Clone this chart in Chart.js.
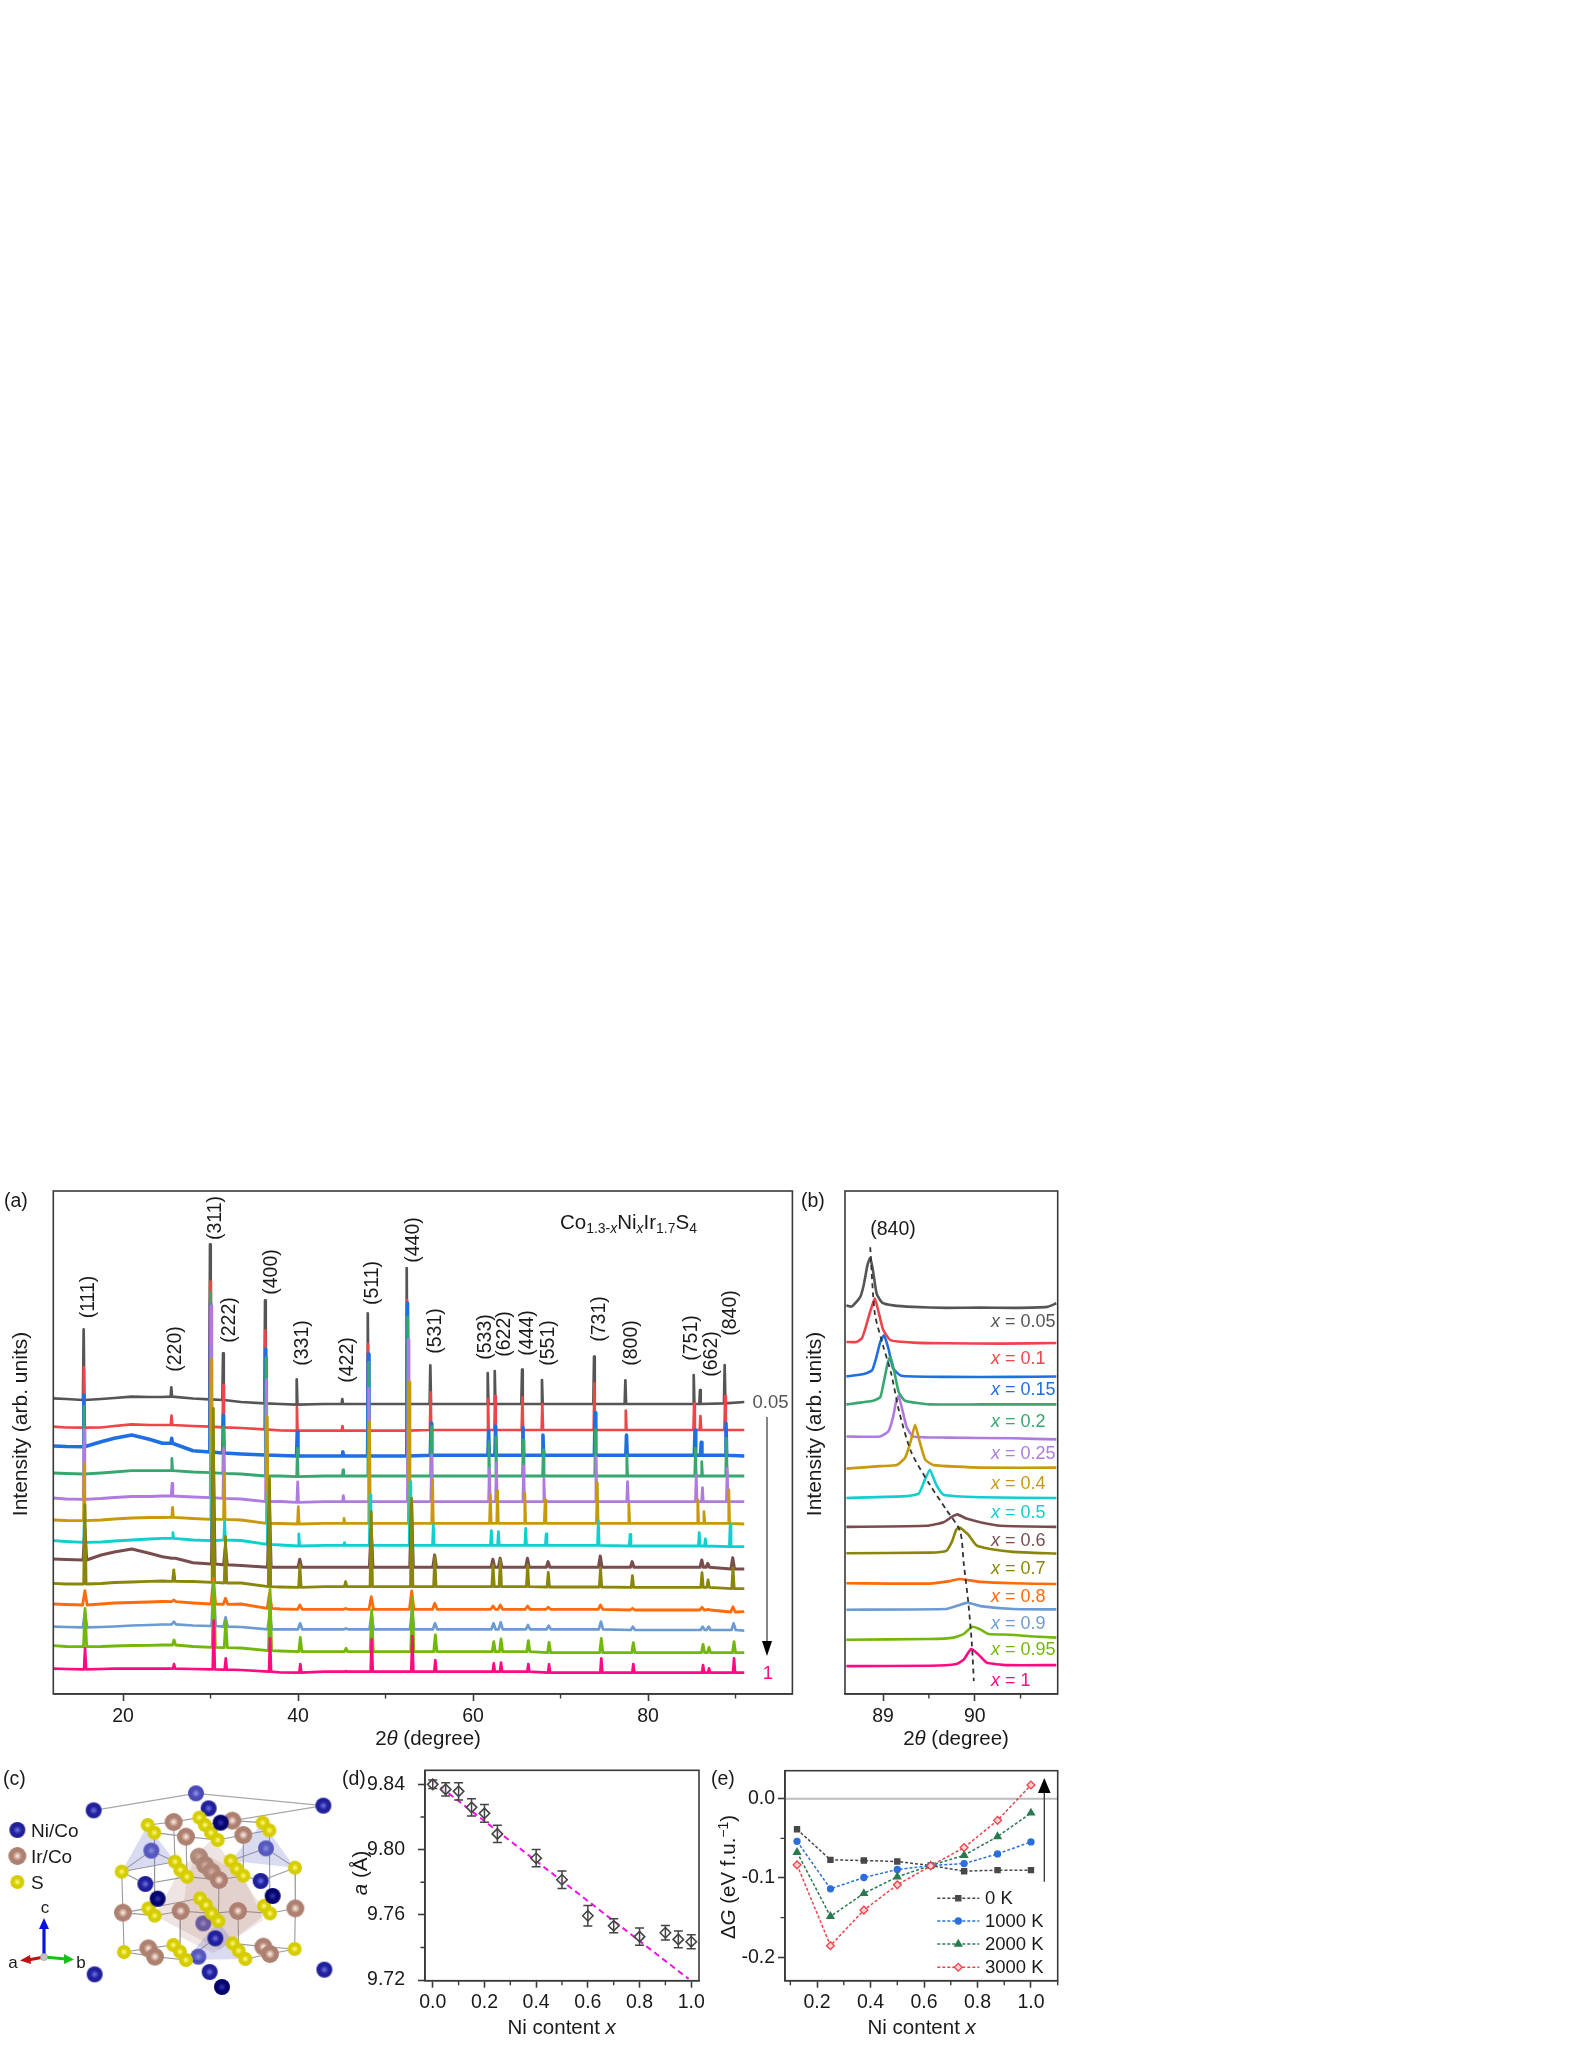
<!DOCTYPE html>
<html>
<head>
<meta charset="utf-8">
<title>Co1.3-xNixIr1.7S4</title>
<script src="https://cdn.jsdelivr.net/npm/chart.js@4/dist/chart.umd.js"></script>
<style>
  html, body { margin: 0; padding: 0; background: #fff; }
  body { position: relative; width: 1580px; height: 2045px; overflow: hidden; font-family: "Liberation Sans", Arial, sans-serif; color: #1a1a1a; }
  canvas { position: absolute; }
  .txt { position: absolute; white-space: nowrap; line-height: 1; transform: translate(-50%, -50%); }
  .left { transform: translate(0, -50%); }
  sub { font-size: 0.68em; line-height: 0; vertical-align: -0.28em; }
  sup { font-size: 0.68em; line-height: 0; vertical-align: 0.45em; }
  svg { position: absolute; left: 0; top: 0; pointer-events: none; }
</style>
</head>
<body>
<canvas id="chartA" width="800" height="560" style="left:0;top:1180px"></canvas>
<canvas id="chartB" width="240" height="560" style="left:830px;top:1180px"></canvas>
<canvas id="chartC" width="340" height="295" style="left:0;top:1750px"></canvas>
<canvas id="chartD" width="360" height="280" style="left:350px;top:1760px"></canvas>
<canvas id="chartE" width="370" height="280" style="left:700px;top:1760px"></canvas>
<svg width="1580" height="2045">
  <!-- seta do painel a -->
  <line x1="767" y1="1417" x2="767" y2="1645" stroke="#444" stroke-width="1.3"/>
  <polygon points="762,1641 772,1641 767,1656" fill="#000"/>
  <!-- seta do painel e -->
  <line x1="1044.3" y1="1881.7" x2="1044.3" y2="1790" stroke="#333" stroke-width="1.3"/>
  <polygon points="1038,1793 1050.6,1793 1044.3,1778" fill="#000"/>
  <!-- eixos a b c do painel c -->
  <line x1="44" y1="1957" x2="44" y2="1925" stroke="#0a12e0" stroke-width="3.2"/>
  <polygon points="39,1929 49,1929 44,1918" fill="#0a12e0"/>
  <line x1="44" y1="1957" x2="28" y2="1960" stroke="#c01010" stroke-width="3.2"/>
  <polygon points="30,1955 31,1964 20,1960.5" fill="#c01010"/>
  <line x1="44" y1="1957" x2="66" y2="1959" stroke="#18c018" stroke-width="3.2"/>
  <polygon points="64,1954 64,1964 74,1959.5" fill="#18c018"/>
  <circle cx="44" cy="1957" r="3.6" fill="#c4c4c4" stroke="#999" stroke-width="0.6"/>
</svg>

<script>
// Composições (x) e cores
const compositions = ['0.05', '0.1', '0.15', '0.2', '0.25', '0.4', '0.5', '0.6', '0.7', '0.8', '0.9', '0.95', '1'];
const traceColors = ['#555555', '#ee4549', '#1f6fe0', '#36a86f', '#b07be0', '#c89a0a', '#0fcfcf', '#7a4d4d', '#8a860a', '#ff6a0a', '#6c9bd2', '#72b80a', '#ff0a80'];
const peakWidths = [0.08, 0.08, 0.08, 0.08, 0.09, 0.09, 0.09, 0.2, 0.14, 0.26, 0.24, 0.18, 0.12];
const lineWidths = [2.7, 2.7, 3.6, 2.8, 2.8, 2.8, 2.8, 3.1, 2.8, 2.8, 2.7, 2.8, 2.7];

// Painel a: índices dos picos
const hklLabels = ['(111)', '(220)', '(311)', '(222)', '(400)', '(331)', '(422)', '(511)', '(440)', '(531)', '(533)', '(622)', '(444)', '(551)', '(731)', '(800)', '(751)', '(662)', '(840)'];
const hklX = [88.4, 175.4, 214.7, 229, 271, 302, 347, 372, 412.6, 434.6, 485, 504, 527, 547.5, 598.7, 631.4, 691, 710.6, 730];
const hklY = [1296.8, 1348.6, 1218, 1320, 1271.8, 1343, 1360, 1283, 1239.6, 1330.7, 1336.8, 1333.6, 1332.5, 1342.9, 1319, 1342.5, 1338, 1354, 1312.9];

// Fundo (2theta, intensidade em unidades arb.)
const bgTheta = [12, 13.5, 17.5, 19, 21, 23, 24.5, 28, 33.5, 38, 43, 50, 58, 70, 80, 84, 91];
const bg005 = [295.7, 295, 295, 296, 297.3, 297, 297, 295.5, 292, 290, 290, 290, 290, 290, 290, 290, 292];
const bg010 = [267.3, 266.5, 266.5, 268, 269.7, 269, 269, 268, 266, 263.5, 263.3, 263.3, 264, 264, 264, 264, 264];
const bg015 = [248, 247.5, 252.3, 255.7, 259, 254.7, 250.7, 243.3, 240, 238.5, 238, 238, 238.7, 238.7, 238.7, 238.7, 238];
const bg020 = [221, 220.5, 221, 222, 223.3, 223.3, 223.3, 222, 220, 218, 218, 218, 218, 218, 218, 218, 218];
const bg025 = [196, 195, 195.5, 196.5, 197.5, 197.5, 198, 197, 195, 192.5, 192.3, 192.3, 192.3, 192.3, 192.3, 192.3, 192.3];
const bg040 = [174, 173.5, 174, 175, 176, 176.5, 176.5, 175.5, 174, 170.5, 170.7, 170.7, 170.7, 170.7, 170.7, 170.7, 170];
const bg050 = [153.3, 152.5, 152, 153, 154, 155, 155.7, 154, 153.5, 149, 148.7, 148.7, 148.7, 148.7, 148, 148, 147.3];
const bg060 = [135, 134.5, 139, 142, 145, 140.7, 137.3, 131.3, 128.5, 126.7, 126.7, 126.7, 126.7, 126.7, 126.7, 126.7, 125];
const bg070 = [110.7, 110, 110.5, 111.5, 112, 112.7, 113, 112.5, 111, 107, 107.3, 107.3, 107.3, 107, 106.7, 106.7, 105.3];
const bg080 = [90, 89.5, 90, 91, 91.5, 92, 92.5, 91, 90, 85, 84.7, 84.7, 84.7, 84.7, 84, 84, 82.3];
const bg090 = [67.3, 67, 67, 67.5, 68.5, 69, 69.5, 68.5, 67, 64.7, 64.7, 64.7, 64.7, 64.7, 64, 64, 63.3];
const bg095 = [48.3, 47.5, 47.5, 48, 48.5, 48.7, 49, 47.5, 46, 43, 42.3, 42.3, 42.3, 41.3, 41.3, 41.3, 41.3];
const bg100 = [25.3, 25, 25, 25.3, 25.3, 25.3, 25.3, 25, 24, 21.5, 22.3, 22.3, 22.3, 21.3, 21.3, 21.3, 21.3];

// Posição dos picos em 2theta
const pos005 = [15.5, 25.52, 29.94, 31.43, 36.23, 39.85, 45.06, 47.97, 52.42, 55.12, 61.68, 62.48, 65.6, 67.88, 73.83, 77.41, 85.22, 85.94, 88.76];
const pos010 = [15.51, 25.54, 29.96, 31.45, 36.26, 39.87, 45.08, 47.99, 52.45, 55.15, 61.71, 62.52, 65.64, 67.92, 73.87, 77.46, 85.27, 85.99, 88.81];
const pos015 = [15.52, 25.56, 30.0, 31.47, 36.31, 39.91, 45.12, 48.03, 52.51, 55.2, 61.78, 62.58, 65.7, 67.99, 73.95, 77.54, 85.37, 86.08, 88.91];
const pos020 = [15.53, 25.58, 30.02, 31.49, 36.34, 39.93, 45.14, 48.06, 52.54, 55.23, 61.81, 62.62, 65.74, 68.03, 73.99, 77.58, 85.42, 86.14, 88.96];
const pos025 = [15.54, 25.6, 30.06, 31.51, 36.38, 39.96, 45.18, 48.09, 52.59, 55.27, 61.87, 62.67, 65.79, 68.1, 74.05, 77.66, 85.51, 86.22, 89.05];
const pos040 = [15.57, 25.66, 30.13, 31.57, 36.48, 40.03, 45.25, 48.17, 52.7, 55.37, 61.98, 62.8, 65.92, 68.24, 74.2, 77.81, 85.69, 86.39, 89.23];
const pos050 = [15.59, 25.7, 30.19, 31.61, 36.57, 40.09, 45.31, 48.24, 52.8, 55.46, 62.09, 62.9, 66.02, 68.36, 74.32, 77.95, 85.85, 86.55, 89.39];
const pos060 = [15.64, 25.79, 30.31, 31.7, 36.72, 40.2, 45.43, 48.36, 52.97, 55.61, 62.27, 63.1, 66.22, 68.58, 74.54, 78.19, 86.14, 86.83, 89.68];
const pos070 = [15.64, 25.8, 30.32, 31.71, 36.74, 40.21, 45.44, 48.37, 52.99, 55.63, 62.29, 63.12, 66.24, 68.6, 74.57, 78.22, 86.17, 86.86, 89.71];
const pos080 = [15.64, 25.8, 30.32, 31.71, 36.74, 40.21, 45.44, 48.37, 52.99, 55.63, 62.29, 63.12, 66.24, 68.6, 74.57, 78.22, 86.17, 86.86, 89.71];
const pos090 = [15.65, 25.81, 30.35, 31.72, 36.77, 40.24, 45.47, 48.4, 53.03, 55.66, 62.34, 63.16, 66.28, 68.65, 74.62, 78.27, 86.24, 86.92, 89.78];
const pos095 = [15.66, 25.83, 30.37, 31.74, 36.8, 40.26, 45.49, 48.42, 53.06, 55.69, 62.37, 63.2, 66.32, 68.69, 74.66, 78.32, 86.29, 86.97, 89.83];
const pos100 = [15.66, 25.83, 30.37, 31.74, 36.8, 40.26, 45.49, 48.42, 53.06, 55.69, 62.37, 63.2, 66.32, 68.69, 74.66, 78.32, 86.29, 86.97, 89.83];

// Topo dos picos
const top005 = [364.6, 306.7, 449.6, 340.7, 393.6, 314.6, 295, 380.7, 426, 328.6, 321, 323, 324.3, 314, 337.5, 313.6, 319, 304, 329];
const top010 = [327, 278.3, 412.5, 309, 363.6, 287, 268, 350, 394, 301.7, 294.7, 298, 296.7, 290, 310.7, 283.3, 290.7, 278, 298];
const top015 = [299, 255.7, 391, 279, 345, 262, 242.3, 340, 391, 270.7, 263.3, 268, 266.7, 259, 281.3, 259, 264, 251.7, 270.7];
const top020 = [287.3, 235.7, 401.4, 267, 336, 245.7, 224, 331.8, 377, 267, 252.3, 257.3, 254, 244, 264, 239, 245.7, 232.3, 255.7];
const top025 = [264, 210.7, 387.9, 245.7, 314.6, 212, 198.3, 305.7, 354, 239, 225.7, 231.3, 228, 215.7, 237.3, 212.3, 219, 206.3, 225.7];
const top040 = [230.7, 186.7, 335, 220.7, 277, 187.3, 175.7, 272.3, 312, 214.7, 199, 203.3, 200.7, 194, 211.3, 190, 194, 182.3, 204];
const top050 = [180.7, 161.3, 260, 173, 202, 160, 151.3, 199, 212.3, 169, 163.3, 162.3, 165.7, 160, 173.3, 159.7, 161.3, 155, 170];
const top060 = [165, 135.7, 240, 147, 190, 134.7, 126.7, 165, 190, 139, 134.7, 135.7, 135.7, 132.3, 137.9, 132.3, 134, 130.7, 136.3];
const top070 = [189, 124, 285.7, 157.3, 215.7, 129, 112.3, 182.3, 195.7, 137.3, 129, 134, 129, 121.7, 126, 118.3, 121.3, 114, 126.3];
const top080 = [103.3, 94, 115.7, 95.7, 100.7, 89, 85.5, 97.3, 103, 90.7, 88, 89, 88, 86.7, 89, 85.7, 86.7, 84.7, 87.3];
const top090 = [82.3, 72.3, 110, 76.7, 80.7, 70.7, 65.5, 80, 84, 70.7, 70.7, 71.7, 69, 68.3, 72.3, 67.3, 67.3, 67.3, 70.7];
const top095 = [85.7, 54, 112, 73.3, 104.7, 56.7, 45.7, 84, 97.3, 59, 52.3, 55, 53.3, 51.7, 55.7, 51.3, 49.7, 46.7, 52.3];
const top100 = [45.7, 30, 73.3, 35.7, 55.7, 30, 23, 54.7, 58, 34, 30.7, 31.3, 30, 29.7, 35.7, 30, 29, 25.7, 35.7];

// Pé dos picos (nível do fundo sob cada pico)
const foot005 = [294, 297.3, 294.7, 294, 290.7, 289.3, 290, 290, 290, 290, 290, 290, 290, 290, 290, 290, 290, 290, 290.7];
const foot010 = [266.3, 269, 267.3, 266.7, 264.7, 263.3, 263.3, 263.3, 263.3, 264, 264, 264, 264, 264, 264, 264, 264, 264, 264];
const foot015 = [247.3, 250.7, 242, 241, 239, 238, 238, 238, 238, 238.7, 238.7, 238.7, 238.7, 238.7, 238.7, 238.7, 238.7, 238.7, 238.7];
const foot020 = [220, 223.3, 221.3, 220.7, 218, 217.3, 218, 218, 218, 218, 218, 218, 218, 218, 218, 218, 218, 218, 218];
const foot025 = [194.7, 198, 196.3, 195.7, 192.3, 191.7, 192.3, 192.3, 192.3, 192.3, 192.3, 192.3, 192.3, 192.3, 192.3, 192.3, 192.3, 192.3, 192.3];
const foot040 = [173.3, 176.7, 174.7, 174.7, 170.7, 170, 170.7, 170.7, 170.7, 170.7, 170.7, 170.7, 170.7, 170.7, 170.7, 170.7, 170.7, 170.7, 170.7];
const foot050 = [151.7, 155.7, 153.3, 154, 149.7, 148, 148.7, 148.7, 148.7, 148.7, 148.7, 148.7, 148.7, 148.7, 148.7, 148, 148, 148, 147.3];
const foot060 = [134, 135.7, 130, 129.3, 126.7, 126.7, 126.7, 126.7, 126.7, 126.7, 126.7, 126.7, 126.7, 126.7, 126.7, 126.7, 126.7, 126.7, 125];
const foot070 = [110, 112.7, 111.7, 111, 107.3, 106.7, 107.3, 107.3, 107.3, 107.3, 107.3, 107.3, 107.3, 107, 107, 106.7, 106.7, 106.7, 105.3];
const foot080 = [89, 92.3, 90, 89.7, 85.7, 84.7, 84.7, 84.7, 84.7, 84.7, 84.7, 84.7, 84.7, 84.7, 84.7, 84, 84, 84, 82];
const foot090 = [66.7, 69.7, 68, 67.3, 64.7, 64.7, 64.7, 64.7, 64.7, 64.7, 64.7, 64.7, 64.7, 64.7, 64.7, 64, 64, 64, 64];
const foot095 = [47.3, 49, 46.7, 46.3, 43.3, 42.3, 42.3, 42.3, 42.3, 42.3, 42.3, 42.3, 42.3, 41.3, 41.3, 41.3, 41.3, 41.3, 41.3];
const foot100 = [24.7, 25.3, 24.7, 24.3, 22.3, 21.3, 22.3, 22.3, 22.3, 22.3, 22.3, 22.3, 22.3, 21.3, 21.3, 21.3, 21.3, 21.3, 21.3];

const bgAll = [bg005, bg010, bg015, bg020, bg025, bg040, bg050, bg060, bg070, bg080, bg090, bg095, bg100];
const posAll = [pos005, pos010, pos015, pos020, pos025, pos040, pos050, pos060, pos070, pos080, pos090, pos095, pos100];
const topAll = [top005, top010, top015, top020, top025, top040, top050, top060, top070, top080, top090, top095, top100];
const footAll = [foot005, foot010, foot015, foot020, foot025, foot040, foot050, foot060, foot070, foot080, foot090, foot095, foot100];

// Painel b: pico (840)
const b005X = [88.6, 88.66, 88.75, 88.79, 88.83, 88.86, 88.89, 88.93, 88.99, 89.11, 89.33, 89.69, 90.06, 90.42, 90.79, 90.89];
const b005Y = [388.6, 387.5, 396.8, 409.3, 428.9, 436, 423.6, 400.4, 391.4, 388.6, 387.1, 386.1, 386.4, 386.1, 387.1, 390.7];
const b010X = [88.6, 88.71, 88.77, 88.81, 88.86, 88.91, 88.95, 89.0, 89.08, 89.33, 89.69, 90.28, 90.89];
const b010Y = [352, 352, 355.7, 366.4, 382.5, 395.7, 382.5, 364.6, 353.9, 351.4, 350.7, 350.4, 351];
const b015X = [88.6, 88.79, 88.88, 88.92, 88.97, 89.01, 89.06, 89.11, 89.2, 89.69, 90.42, 90.89];
const b015Y = [317.5, 320, 323.6, 334.3, 352.1, 358.6, 345, 325.4, 318.2, 317.1, 317.1, 317.5];
const b020X = [88.6, 88.89, 88.97, 89.01, 89.05, 89.08, 89.12, 89.17, 89.24, 89.51, 90.06, 90.89];
const b020Y = [289.6, 293.2, 296.8, 312.9, 330.7, 337.1, 323.6, 302.1, 293.2, 289.6, 289.6, 289.6];
const b025X = [88.6, 88.97, 89.06, 89.11, 89.14, 89.17, 89.21, 89.26, 89.33, 89.69, 90.42, 90.89];
const b025Y = [257.5, 257.5, 262.9, 277.1, 291.4, 297.9, 284.3, 266.4, 257.5, 256.4, 255.7, 254.6];
const b040X = [88.6, 88.97, 89.15, 89.24, 89.3, 89.35, 89.4, 89.46, 89.55, 90.06, 90.89];
const b040Y = [225.4, 227.9, 228.9, 236.1, 252.1, 269.3, 252.1, 234.3, 228.9, 226.4, 226.4];
const b050X = [88.6, 89.26, 89.39, 89.45, 89.51, 89.58, 89.66, 90.06, 90.89];
const b050Y = [196, 197.9, 200.4, 212.9, 224.3, 209.3, 199.3, 196.8, 196];
const b060X = [88.6, 89.48, 89.66, 89.75, 89.81, 89.91, 90.06, 90.28, 90.89];
const b060Y = [167.1, 168.2, 171.8, 177.1, 179.6, 175.4, 171.8, 168.2, 167.1];
const b070X = [88.6, 89.51, 89.69, 89.75, 89.8, 89.84, 89.93, 90.02, 90.17, 90.42, 90.89];
const b070Y = [140.7, 141.4, 143.2, 152.1, 164.6, 166.4, 159.3, 148.6, 145, 142.1, 140.4];
const b080X = [88.6, 89.51, 89.73, 89.84, 90.06, 90.42, 90.89];
const b080Y = [110.7, 110.4, 112.9, 115, 112.1, 110.7, 110];
const b090X = [88.6, 89.69, 89.8, 89.92, 90.06, 90.42, 90.89];
const b090Y = [84.3, 85, 87.9, 91.4, 87.9, 85, 84.6];
const b095X = [88.6, 89.51, 89.77, 89.88, 89.97, 90.06, 90.15, 90.39, 90.64, 90.89];
const b095Y = [54.3, 55, 56.4, 60, 67.1, 64.6, 60, 59.3, 57.5, 56.4];
const b100X = [88.6, 89.51, 89.8, 89.88, 89.96, 90.04, 90.13, 90.35, 90.89];
const b100Y = [27.9, 28.2, 30, 34.3, 45, 39.6, 31.4, 28.9, 28.9];
const bXAll = [b005X, b010X, b015X, b020X, b025X, b040X, b050X, b060X, b070X, b080X, b090X, b095X, b100X];
const bYAll = [b005Y, b010Y, b015Y, b020Y, b025Y, b040Y, b050Y, b060Y, b070Y, b080Y, b090Y, b095Y, b100Y];
const guideX = [88.86, 88.91, 89.0, 89.09, 89.18, 89.31, 89.51, 89.69, 89.84, 89.88, 89.93, 89.97, 89.99];
const guideY = [446.8, 380.7, 348.6, 320, 280.7, 241.4, 209.3, 184.3, 162.9, 130.7, 91.4, 48.6, 12.9];
const bLabelY = [1321, 1357.5, 1389, 1421, 1453, 1482.5, 1512, 1540, 1567.5, 1595.7, 1622.9, 1649, 1680];

// Painel c: estrutura (coordenadas do desenho)
const niBack = [[588, 130], [454, 302], [798, 295], [610, 520], [595, 620]];
const niFront = [[281, 181], [970, 167], [626, 175], [436, 402], [782, 393], [646, 565], [284, 673], [629, 666], [973, 659], [52, 240]];
const niDark = [[662, 218], [473, 446], [818, 438], [666, 711]];
const irBack = [[597, 320], [615, 345], [635, 365]];
const irFront = [[521, 216], [697, 212], [558, 260], [730, 255], [657, 390], [369, 488], [542, 483], [714, 483], [886, 475], [445, 595], [465, 620], [790, 590], [810, 612], [52, 318]];
const sulfur = [[443, 225], [463, 248], [598, 203], [615, 225], [633, 248], [653, 270], [788, 218], [808, 241], [365, 365], [885, 353], [525, 335], [541, 360], [561, 380], [692, 332], [710, 356], [730, 377], [445, 475], [464, 497], [600, 445], [618, 465], [635, 490], [655, 513], [792, 468], [810, 490], [372, 606], [884, 597], [520, 585], [540, 605], [558, 630], [698, 580], [716, 602], [736, 627], [52, 396]];
const cellEdges = [[281, 181, 588, 130], [588, 130, 970, 167], [970, 167, 662, 218], [662, 218, 281, 181], [284, 673, 595, 620], [595, 620, 973, 659], [973, 659, 666, 711], [666, 711, 284, 673], [281, 181, 284, 673], [970, 167, 973, 659], [662, 218, 666, 711], [588, 130, 595, 620]];
const bonds = [[443, 225, 521, 216], [521, 216, 598, 203], [463, 248, 558, 260], [558, 260, 653, 270], [653, 270, 730, 255], [730, 255, 808, 241], [615, 225, 697, 212], [697, 212, 788, 218], [365, 365, 525, 335], [365, 365, 454, 302], [454, 302, 525, 335], [885, 353, 798, 295], [798, 295, 692, 332], [365, 365, 436, 402], [436, 402, 561, 380], [730, 377, 782, 393], [782, 393, 885, 353], [561, 380, 657, 390], [657, 390, 730, 377], [369, 488, 445, 475], [369, 488, 464, 497], [464, 497, 542, 483], [542, 483, 635, 490], [635, 490, 714, 483], [714, 483, 810, 490], [810, 490, 886, 475], [445, 475, 600, 445], [365, 365, 369, 488], [369, 488, 372, 606], [885, 353, 886, 475], [886, 475, 884, 597], [521, 216, 525, 335], [558, 260, 561, 380], [730, 255, 730, 377], [463, 248, 464, 497], [808, 241, 810, 490], [542, 483, 540, 605], [714, 483, 716, 602], [657, 390, 655, 513], [372, 606, 445, 595], [445, 595, 520, 585], [372, 606, 465, 620], [465, 620, 558, 630], [884, 597, 810, 612], [810, 612, 736, 627], [884, 597, 790, 590], [790, 590, 698, 580], [558, 630, 646, 565], [646, 565, 736, 627]];
const tetraLeft = [[443, 225], [525, 335], [365, 365]];
const tetraRight = [[788, 218], [885, 353], [692, 332]];
const tetraBottom = [[655, 513], [736, 627], [558, 630]];
const octaBack = [[640, 265], [800, 490], [660, 600], [465, 497], [540, 360]];
const octaFront = [[597, 300], [730, 377], [790, 510], [640, 610], [540, 560], [561, 380]];

// Painel d: parâmetro de rede
const latticeX = [0, 0.05, 0.1, 0.15, 0.2, 0.25, 0.4, 0.5, 0.6, 0.7, 0.8, 0.9, 0.95, 1];
const latticeA = [9.84, 9.8369, 9.8357, 9.8259, 9.8222, 9.8096, 9.7947, 9.7815, 9.7594, 9.7533, 9.7466, 9.749, 9.7449, 9.7435];
const latticeErr = [0.0026, 0.0041, 0.0053, 0.0053, 0.0055, 0.0053, 0.0053, 0.0053, 0.0063, 0.0043, 0.0053, 0.0045, 0.0051, 0.0043];
const fitX = [0, 0.99];
const fitA = [9.842, 9.7207];

// Painel e: energia livre
const niContent = [0.125, 0.25, 0.375, 0.5, 0.625, 0.75, 0.875, 1];
const dG0K = [-0.0386, -0.0771, -0.078, -0.0792, -0.0843, -0.0914, -0.0901, -0.0901];
const dG1000K = [-0.0537, -0.1136, -0.0994, -0.0893, -0.0843, -0.0818, -0.0696, -0.0545];
const dG2000K = [-0.0675, -0.1484, -0.1195, -0.0985, -0.0843, -0.0713, -0.0478, -0.018];
const dG3000K = [-0.0834, -0.1853, -0.1405, -0.1086, -0.0847, -0.0616, -0.0273, 0.0172];
const tempLabels = ['0 K', '1000 K', '2000 K', '3000 K'];

Chart.defaults.font.family = '"Liberation Sans", Arial, sans-serif';
Chart.defaults.font.size = 19.5;
Chart.defaults.color = '#1a1a1a';
Chart.defaults.animation = false;
Chart.defaults.responsive = false;
Chart.defaults.devicePixelRatio = 1;
Chart.defaults.layout.autoPadding = false;

const axisColor = '#3a3a3a';

// Moldura e marcas menores
const panelFrame = {
    id: 'panelFrame',
    afterDraw(chart, args, opts) {
        const { ctx, chartArea: a, scales } = chart;
        ctx.save();
        ctx.strokeStyle = axisColor;
        ctx.lineWidth = 1.6;
        ctx.strokeRect(a.left, a.top, a.right - a.left, a.bottom - a.top);
        ctx.lineWidth = 1.4;
        ctx.beginPath();
        (opts.minorX || []).forEach(v => {
            const px = scales.x.getPixelForValue(v);
            ctx.moveTo(px, a.bottom);
            ctx.lineTo(px, a.bottom + 4.5);
        });
        (opts.minorY || []).forEach(v => {
            const py = scales.y.getPixelForValue(v);
            ctx.moveTo(a.left, py);
            ctx.lineTo(a.left - 4.5, py);
        });
        ctx.stroke();
        ctx.restore();
    }
};

// Eixo linear com marcas fixas
function axis(min, max, tickValues, fmt, fixedSize, padding) {
    return {
        type: 'linear', min, max,
        afterBuildTicks: s => { s.ticks = tickValues.map(v => ({ value: v })); },
        afterFit: s => {
            if (s.isHorizontal()) s.height = fixedSize; else s.width = fixedSize;
            s.paddingTop = s.paddingBottom = s.paddingLeft = s.paddingRight = 0;
        },
        grid: { drawOnChartArea: false, drawTicks: true, tickLength: 7, tickWidth: 1.6, tickColor: axisColor },
        border: { display: true, color: axisColor, width: 1.6 },
        ticks: { autoSkip: false, maxRotation: 0, padding, callback: fmt }
    };
}

// Monta o traço: fundo lido + pé/topo/pé de cada pico
function buildTrace(i) {
    const pts = bgTheta.map((t, k) => ({ x: t, y: bgAll[i][k] }));
    posAll[i].forEach((p, k) => {
        pts.push({ x: p - peakWidths[i], y: footAll[i][k] });
        pts.push({ x: p, y: topAll[i][k] });
        pts.push({ x: p + peakWidths[i], y: footAll[i][k] });
    });
    return pts.sort((a, b) => a.x - b.x);
}

const noExtras = { legend: { display: false }, tooltip: { enabled: false } };

// Painel a
new Chart(document.getElementById('chartA'), {
    type: 'line',
    data: {
        datasets: compositions.map((c, i) => ({
            label: c,
            data: buildTrace(i),
            borderColor: traceColors[i],
            borderWidth: lineWidths[i],
            borderJoinStyle: 'round',
            pointRadius: 0,
            tension: 0
        })).reverse()
    },
    options: {
        parsing: false,
        layout: { padding: { left: 53.3, top: 11, right: 7.6, bottom: 0 } },
        scales: {
            x: axis(12.03, 96.5, [20, 40, 60, 80], v => String(v), 46, 4),
            y: { display: false, min: 0, max: 503 }
        },
        plugins: { ...noExtras, panelFrame: { minorX: [30, 50, 70, 90] } }
    },
    plugins: [panelFrame]
});

// Painel b
new Chart(document.getElementById('chartB'), {
    type: 'line',
    data: {
        datasets: [{
            label: 'guia',
            data: guideX.map((x, k) => ({ x, y: guideY[k] })),
            borderColor: '#333',
            borderWidth: 1.8,
            borderDash: [5, 4],
            pointRadius: 0,
            tension: 0.25
        }].concat(compositions.map((c, i) => ({
            label: c,
            data: bXAll[i].map((x, k) => ({ x, y: bYAll[i][k] })),
            borderColor: traceColors[i],
            borderWidth: 2.6,
            pointRadius: 0,
            tension: 0.15
        })).reverse())
    },
    options: {
        parsing: false,
        layout: { padding: { left: 15, top: 11, right: 12.3, bottom: 0 } },
        scales: {
            x: axis(88.585, 90.905, [89, 90], v => String(v), 46, 4),
            y: { display: false, min: 0, max: 503 }
        },
        plugins: { ...noExtras, panelFrame: { minorX: [89.5, 90.5] } }
    },
    plugins: [panelFrame]
});

// Painel c: esfera como imagem de ponto
function sphere(radius, center, edge) {
    const cv = document.createElement('canvas');
    cv.width = cv.height = radius * 2 + 2;
    const g = cv.getContext('2d');
    const c = radius + 1;
    const grad = g.createRadialGradient(c, c, 0.5, c, c, radius);
    grad.addColorStop(0, center);
    grad.addColorStop(0.5, edge);
    grad.addColorStop(1, edge);
    g.fillStyle = grad;
    g.beginPath();
    g.arc(c, c, radius, 0, Math.PI * 2);
    g.fill();
    return cv;
}

function segments(list) {
    const out = [];
    list.forEach(s => {
        out.push({ x: s[0], y: s[1] }, { x: s[2], y: s[3] }, { x: NaN, y: NaN });
    });
    return out;
}
const toPts = list => list.map(p => ({ x: p[0], y: p[1] }));
const atoms = (list, img) => ({ data: toPts(list), showLine: false, pointStyle: img, pointRadius: 8 });
const polygon = (list, fill) => ({ data: toPts(list.concat([list[0]])), showLine: true, borderWidth: 0, borderColor: 'transparent', backgroundColor: fill, fill: 'shape', pointRadius: 0 });

const structureLayers = [
    { data: segments(cellEdges), showLine: true, borderColor: '#a8a8a8', borderWidth: 1.1, pointRadius: 0 },
    { data: segments(bonds), showLine: true, borderColor: '#9a9a9a', borderWidth: 1.1, pointRadius: 0 },
    atoms(niBack, sphere(8, '#8f8fe8', '#4a4ab8')),
    atoms(irBack, sphere(9, '#e8c8bc', '#b08c80')),
    polygon(octaBack, 'rgba(170,120,105,0.20)'),
    polygon(octaFront, 'rgba(170,120,105,0.18)'),
    polygon(tetraLeft, 'rgba(120,125,205,0.28)'),
    polygon(tetraRight, 'rgba(120,125,205,0.28)'),
    polygon(tetraBottom, 'rgba(120,125,205,0.28)'),
    atoms(niFront, sphere(8, '#6a6ae6', '#20209a')),
    atoms(irFront, sphere(9, '#f8e4da', '#ad8070')),
    atoms(sulfur, sphere(7, '#f8f870', '#d6cc00')),
    atoms(niDark, sphere(8, '#3030b0', '#04046c'))
];

new Chart(document.getElementById('chartC'), {
    type: 'scatter',
    data: { datasets: structureLayers.reverse() },
    options: {
        parsing: false,
        layout: { padding: 0 },
        scales: {
            x: { display: false, min: 0, max: 1020 },
            y: { display: false, min: 0, max: 885, reverse: true }
        },
        plugins: noExtras
    }
});

// Painel d: barras de erro
const errorBars = {
    id: 'errorBars',
    afterDatasetsDraw(chart) {
        const { ctx, scales: { x, y } } = chart;
        ctx.save();
        ctx.strokeStyle = '#444';
        ctx.lineWidth = 1.5;
        ctx.beginPath();
        latticeX.forEach((v, k) => {
            const px = x.getPixelForValue(v);
            const lo = y.getPixelForValue(latticeA[k] - latticeErr[k]);
            const hi = y.getPixelForValue(latticeA[k] + latticeErr[k]);
            ctx.moveTo(px, lo); ctx.lineTo(px, hi);
            ctx.moveTo(px - 4.5, lo); ctx.lineTo(px + 4.5, lo);
            ctx.moveTo(px - 4.5, hi); ctx.lineTo(px + 4.5, hi);
        });
        ctx.stroke();
        ctx.restore();
    }
};

new Chart(document.getElementById('chartD'), {
    type: 'scatter',
    data: {
        datasets: [
            { data: latticeX.map((x, k) => ({ x, y: latticeA[k] })), showLine: false, pointStyle: 'rectRot', pointRadius: 5.2, pointBorderColor: '#444', pointBorderWidth: 1.6, pointBackgroundColor: 'rgba(255,255,255,0.75)' },
            { data: fitX.map((x, k) => ({ x, y: fitA[k] })), showLine: true, borderColor: '#f010e8', borderWidth: 2, borderDash: [6, 4], pointRadius: 0 }
        ]
    },
    options: {
        parsing: false,
        layout: { padding: { left: 0, top: 10.3, right: 11, bottom: 0 } },
        scales: {
            x: axis(-0.03, 1.03, [0, 0.2, 0.4, 0.6, 0.8, 1], v => v.toFixed(1), 59.3, 3),
            y: axis(9.7196, 9.8486, [9.72, 9.76, 9.8, 9.84], v => v.toFixed(2), 75, 13)
        },
        plugins: { ...noExtras, panelFrame: { minorX: [0.1, 0.3, 0.5, 0.7, 0.9], minorY: [9.74, 9.78, 9.82] } }
    },
    plugins: [panelFrame, errorBars]
});

// Painel e
const tempSeries = [
    { values: dG3000K, color: '#f0404a', style: 'rectRot', radius: 3.9, fill: '#fbd0d0' },
    { values: dG2000K, color: '#2a7a50', style: 'triangle', radius: 4, fill: '#2a7a50' },
    { values: dG1000K, color: '#2a6fdb', style: 'circle', radius: 3, fill: '#2a6fdb' },
    { values: dG0K, color: '#484848', style: 'rect', radius: 3.6, fill: '#484848' }
];

const tempLegend = {
    id: 'tempLegend',
    afterDraw(chart) {
        const { ctx } = chart;
        const rows = [138.3, 161, 184, 207.3];
        ctx.save();
        tempLabels.forEach((label, i) => {
            const s = tempSeries[3 - i];
            const y = rows[i];
            ctx.strokeStyle = s.color;
            ctx.lineWidth = 1.5;
            ctx.setLineDash([3, 2]);
            ctx.beginPath();
            ctx.moveTo(237.3, y);
            ctx.lineTo(279.3, y);
            ctx.stroke();
            ctx.setLineDash([]);
            ctx.fillStyle = s.fill;
            ctx.lineWidth = 1.3;
            Chart.helpers.drawPoint(ctx, { pointStyle: s.style, radius: s.radius, borderWidth: 1.3 }, 258.3, y);
            ctx.fillStyle = '#1a1a1a';
            ctx.font = '18.5px "Liberation Sans", Arial, sans-serif';
            ctx.textBaseline = 'middle';
            ctx.fillText(label, 285, y + 0.5);
        });
        ctx.restore();
    }
};

new Chart(document.getElementById('chartE'), {
    type: 'line',
    data: {
        datasets: tempSeries.map(s => ({
            data: niContent.map((x, k) => ({ x, y: s.values[k] })),
            borderColor: s.color,
            borderWidth: 1.5,
            borderDash: [3, 2],
            pointStyle: s.style,
            pointRadius: s.radius,
            pointBackgroundColor: s.fill,
            pointBorderColor: s.color,
            pointBorderWidth: 1.3
        })).concat([{
            data: [{ x: 0.08, y: 0 }, { x: 1.1, y: 0 }],
            borderColor: '#bdbdbd',
            borderWidth: 2,
            pointRadius: 0
        }])
    },
    options: {
        parsing: false,
        layout: { padding: { left: 0, top: 10.7, right: 12.3, bottom: 0 } },
        scales: {
            x: axis(0.08, 1.1, [0.2, 0.4, 0.6, 0.8, 1], v => v.toFixed(1), 59.3, 3),
            y: axis(-0.2295, 0.0353, [-0.2, -0.1, 0], v => v.toFixed(1), 85, 3)
        },
        plugins: { ...noExtras, panelFrame: { minorX: [0.1, 0.3, 0.5, 0.7, 0.9, 1.1], minorY: [-0.15, -0.05] } }
    },
    plugins: [panelFrame, tempLegend]
});

// Textos em HTML
function addText(html, x, y, opts = {}) {
    const el = document.createElement('div');
    el.className = 'txt' + (opts.left ? ' left' : '');
    el.innerHTML = html;
    el.style.left = x + 'px';
    el.style.top = y + 'px';
    el.style.fontSize = (opts.size || 19.5) + 'px';
    if (opts.color) el.style.color = opts.color;
    if (opts.rotate) el.style.transform = 'translate(-50%, -50%) rotate(' + opts.rotate + 'deg)';
    document.body.appendChild(el);
}

addText('(a)', 4, 1201, { left: true });
addText('(b)', 801, 1201, { left: true });
addText('(c)', 3, 1779, { left: true });
addText('(d)', 342, 1779, { left: true });
addText('(e)', 711, 1779, { left: true });

hklLabels.forEach((t, i) => addText(t, hklX[i], hklY[i], { rotate: -90 }));
addText('Co<sub>1.3-<i>x</i></sub>Ni<sub><i>x</i></sub>Ir<sub>1.7</sub>S<sub>4</sub>', 560, 1222, { left: true, size: 20.5 });
addText('0.05', 752.5, 1402, { left: true, color: '#555555', size: 18.5 });
addText('1', 768, 1673, { color: '#ff0a80', size: 18.5 });
addText('Intensity (arb. units)', 18.5, 1423.6, { rotate: -90, size: 21 });
addText('2<i>θ</i> (degree)', 428, 1738, { size: 20.5 });

addText('(840)', 893, 1229);
addText('Intensity (arb. units)', 813, 1423.6, { rotate: -90, size: 21 });
addText('2<i>θ</i> (degree)', 956, 1738, { size: 20.5 });
compositions.forEach((c, i) => {
    addText('<i>x</i> = ' + c, 991, bLabelY[i], { left: true, color: traceColors[i], size: 18 });
});

addText('Ni/Co', 31, 1830, { left: true, size: 19 });
addText('Ir/Co', 31, 1856, { left: true, size: 19 });
addText('S', 31, 1882, { left: true, size: 19 });
addText('c', 45, 1907, { size: 17 });
addText('a', 13, 1962, { size: 17 });
addText('b', 81, 1962, { size: 17 });

addText('<i>a</i> (Å)', 360, 1873, { rotate: -90, size: 20.5 });
addText('Ni content <i>x</i>', 561.7, 2026.7, { size: 20.5 });
addText('Δ<i>G</i> (eV f.u.<sup>−1</sup>)', 728, 1876.7, { rotate: -90, size: 20.5 });
addText('Ni content <i>x</i>', 921.7, 2026.7, { size: 20.5 });
</script>
</body>
</html>
